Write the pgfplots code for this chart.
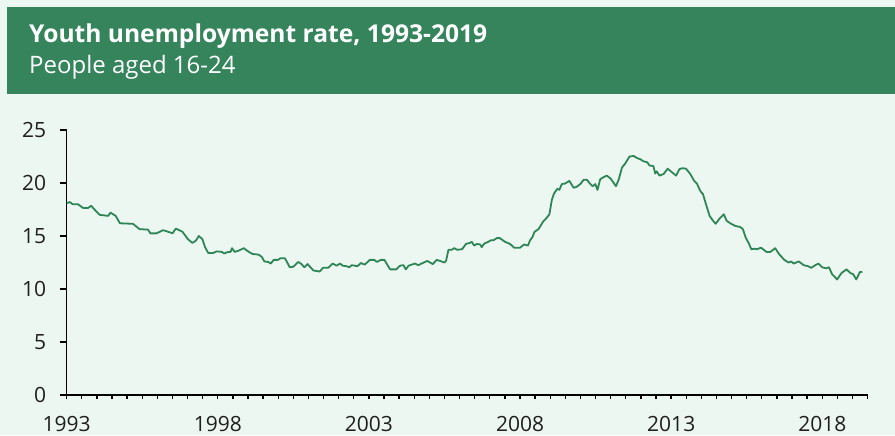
\documentclass[border=0pt]{standalone}
\usepackage{fontspec}
\setmainfont{Open Sans}
\usepackage{pgfplots}
\pgfplotsset{compat=1.18}
\definecolor{hdr}{RGB}{53,132,92}
\definecolor{bgc}{RGB}{237,247,241}
\definecolor{ln}{RGB}{46,134,87}
\newcommand{\tickfont}{\fontsize{21}{24}\selectfont}
\begin{document}
\begin{tikzpicture}
\fill[bgc] (0pt,0pt) rectangle (895pt,-435pt);
\fill[hdr] (7pt,-7pt) rectangle (895pt,-94pt);
\node[anchor=base west,inner sep=0pt,text=white,font=\fontsize{24.6}{28}\selectfont\bfseries] at (29pt,-43pt) {Youth unemployment rate, 1993-2019};
\node[anchor=base west,inner sep=0pt,text=white,font=\fontsize{24}{28}\selectfont] at (29pt,-74pt) {People aged 16-24};
\begin{axis}[
  at={(66.7pt,-395pt)}, anchor=south west,
  scale only axis, width=801pt, height=265pt,
  xmin=1993, xmax=2019.5, ymin=0, ymax=25,
  axis x line*=bottom, axis y line*=left,
  axis line style={black, line width=1.3pt},
  xtick={1993,1998,2003,2008,2013,2018},
  minor xtick={1993.5,1994,...,2019.5},
  ytick={0,5,10,15,20,25},
  tick align=outside,
  major tick length=4pt, minor tick length=4pt,
  every tick/.style={black, line width=1.3pt},
  ytick style={/pgfplots/major tick length=7pt},
  /pgf/number format/assume math mode=true,
  xticklabel={\pgfmathprintnumber[1000 sep={},fixed]{\tick}},
  ticklabel style={font=\tickfont, text=black!88},
  xticklabel style={yshift=-14pt},
  yticklabel style={xshift=-13pt},
  clip=false,
]
\addplot[ln, line width=1.8pt, line join=round] table {
1993.00 18.1
1993.10 18.2
1993.20 18.0
1993.37 18.0
1993.54 17.65
1993.71 17.65
1993.81 17.85
1993.92 17.5
1994.09 17.0
1994.37 16.9
1994.45 17.2
1994.62 16.9
1994.76 16.2
1995.19 16.15
1995.41 15.65
1995.69 15.6
1995.77 15.25
1995.97 15.25
1996.19 15.55
1996.41 15.35
1996.50 15.25
1996.61 15.7
1996.83 15.4
1997.01 14.7
1997.16 14.35
1997.27 14.55
1997.37 15.0
1997.49 14.7
1997.57 14.0
1997.68 13.4
1997.85 13.4
1997.96 13.55
1998.13 13.5
1998.21 13.35
1998.34 13.5
1998.42 13.5
1998.47 13.85
1998.56 13.5
1998.67 13.6
1998.86 13.85
1999.00 13.55
1999.15 13.3
1999.34 13.25
1999.45 13.05
1999.54 12.6
1999.67 12.55
1999.75 12.4
1999.85 12.75
1999.99 12.75
2000.07 12.9
2000.22 12.9
2000.38 12.05
2000.50 12.1
2000.66 12.55
2000.77 12.35
2000.86 12.05
2000.97 12.35
2001.16 11.75
2001.37 11.65
2001.48 12.0
2001.65 12.0
2001.80 12.4
2001.93 12.2
2002.04 12.4
2002.13 12.2
2002.26 12.15
2002.35 12.05
2002.43 12.25
2002.62 12.15
2002.73 12.45
2002.86 12.3
2003.03 12.75
2003.17 12.75
2003.27 12.55
2003.39 12.75
2003.51 12.75
2003.70 11.85
2003.90 11.85
2004.03 12.2
2004.14 12.25
2004.22 11.85
2004.31 12.2
2004.52 12.4
2004.63 12.25
2004.74 12.4
2004.93 12.65
2005.11 12.35
2005.24 12.75
2005.35 12.65
2005.49 12.5
2005.55 12.65
2005.63 13.7
2005.74 13.7
2005.82 13.85
2005.92 13.7
2006.08 13.75
2006.21 14.25
2006.34 14.35
2006.40 14.45
2006.48 14.1
2006.57 14.25
2006.68 14.2
2006.73 13.95
2006.82 14.3
2006.95 14.45
2007.03 14.6
2007.12 14.6
2007.23 14.8
2007.33 14.8
2007.50 14.45
2007.67 14.25
2007.80 13.9
2008.00 13.9
2008.13 14.2
2008.26 14.1
2008.33 14.6
2008.41 14.9
2008.48 15.4
2008.61 15.65
2008.76 16.35
2008.89 16.75
2008.97 17.05
2009.05 18.4
2009.12 19.0
2009.23 19.45
2009.30 19.35
2009.38 19.9
2009.49 19.95
2009.63 20.2
2009.77 19.55
2009.88 19.65
2010.01 19.95
2010.10 20.3
2010.21 20.3
2010.31 19.95
2010.40 19.7
2010.49 19.9
2010.56 19.35
2010.65 20.35
2010.76 20.55
2010.87 20.7
2011.00 20.4
2011.17 19.7
2011.26 20.3
2011.37 21.45
2011.48 21.85
2011.62 22.5
2011.76 22.55
2011.87 22.35
2011.97 22.25
2012.08 22.05
2012.21 21.95
2012.28 21.65
2012.41 21.6
2012.47 20.9
2012.52 21.1
2012.61 20.7
2012.75 20.85
2012.88 21.35
2013.03 21.0
2013.16 20.7
2013.27 21.3
2013.36 21.4
2013.49 21.35
2013.63 20.85
2013.76 20.2
2013.85 19.95
2013.96 19.25
2014.05 18.95
2014.16 17.9
2014.27 16.9
2014.38 16.45
2014.47 16.15
2014.60 16.65
2014.74 17.05
2014.83 16.45
2014.95 16.2
2015.12 15.95
2015.28 15.85
2015.37 15.65
2015.47 14.8
2015.56 14.35
2015.65 13.75
2015.75 13.8
2015.84 13.75
2015.97 13.9
2016.15 13.5
2016.28 13.5
2016.44 13.85
2016.58 13.25
2016.74 12.75
2016.88 12.5
2016.97 12.6
2017.05 12.4
2017.22 12.6
2017.38 12.25
2017.53 12.15
2017.63 12.0
2017.77 12.25
2017.87 12.4
2017.99 12.05
2018.13 11.95
2018.22 12.05
2018.32 11.4
2018.49 10.9
2018.63 11.5
2018.80 11.85
2018.93 11.5
2019.02 11.4
2019.12 10.9
2019.24 11.6
2019.32 11.6
};
\end{axis}
\end{tikzpicture}
\end{document}
